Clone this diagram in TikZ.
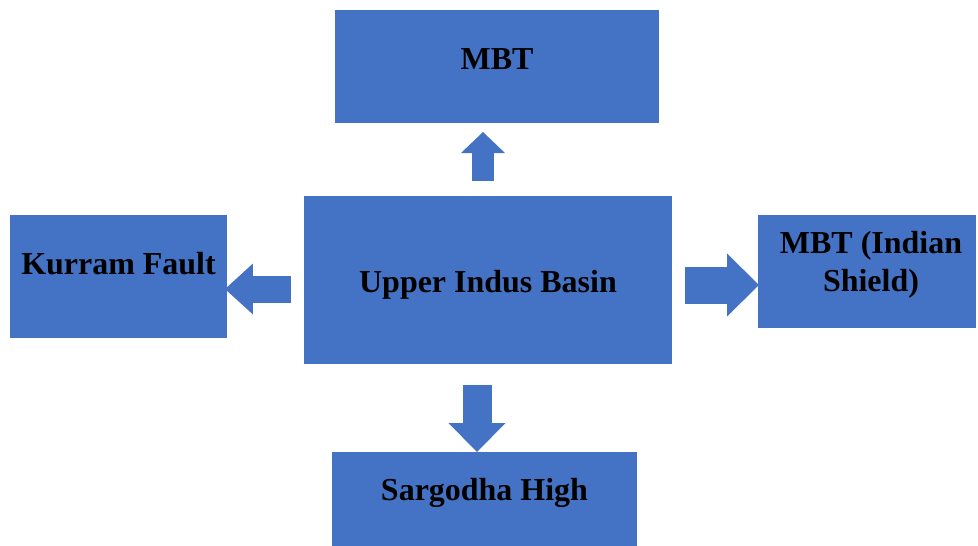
\documentclass[tikz,border=0pt]{standalone}
\usepackage{fontspec}
\setmainfont{Liberation Serif}
\usetikzlibrary{arrows.meta}
\definecolor{boxblue}{HTML}{4472C4}

\begin{document}
\begin{tikzpicture}[
       x=0.02cm, y=-0.02cm,
       font=\bfseries\fontsize{18.2}{21.5}\selectfont,
       region/.style={
         rectangle,
         fill=boxblue,
         inner sep=0pt
       },
       caption/.style={
         text=black,
         inner sep=0pt,
         text height=0.69em,
         text depth=0.22em
       },
       blockarrow/.style={
         draw=boxblue,
         line cap=butt
       }
     ]

       \useasboundingbox (0,0) rectangle (978,545);
       \clip (0,0) rectangle (978,545);

       \node (mbt) at (497,66.5) [region,minimum width=6.48cm,minimum height=2.26cm,
         label={[caption,yshift=0.02cm]center:MBT}]{};
       \node (uib) at (488,280) [region,minimum width=7.36cm,minimum height=3.36cm,
         label={[caption,yshift=-0.17cm]center:Upper Indus Basin}]{};
       \node (kf) at (118.5,276.5) [region,minimum width=4.34cm,minimum height=2.46cm,
         label={[caption,yshift=0.12cm]center:Kurram Fault}]{};
       \node (mis) at (867,271.5) [region,minimum width=4.36cm,minimum height=2.26cm,
         label={[text=black,inner sep=0pt,align=center,xshift=0.08cm,yshift=0.14cm]center:MBT (Indian\\Shield)}]{};
       \node (sh) at (484.5,502) [region,minimum width=6.10cm,minimum height=2.0cm,
         label={[caption,yshift=0.12cm]center:Sargodha High}]{};

       \coordinate (up1) at (483,181);
       \coordinate (up2) at (483,132);
       \coordinate (lt1) at (291,289);
       \coordinate (lt2) at (225,289);
       \coordinate (rt1) at (685,285);
       \coordinate (rt2) at (759,285);
       \coordinate (dn1) at (477,385);
       \coordinate (dn2) at (477,452);

       \draw[blockarrow,line width=0.44cm,
         -{Triangle[width=0.88cm,length=0.42cm,line width=0pt]}] (up1) -- (up2);
       \draw[blockarrow,line width=0.54cm,
         -{Triangle[width=1.02cm,length=0.56cm,line width=0pt]}] (lt1) -- (lt2);
       \draw[blockarrow,line width=0.74cm,
         -{Triangle[width=1.26cm,length=0.64cm,line width=0pt]}] (rt1) -- (rt2);
       \draw[blockarrow,line width=0.58cm,
         -{Triangle[width=1.14cm,length=0.58cm,line width=0pt]}] (dn1) -- (dn2);

\end{tikzpicture}
\end{document}
